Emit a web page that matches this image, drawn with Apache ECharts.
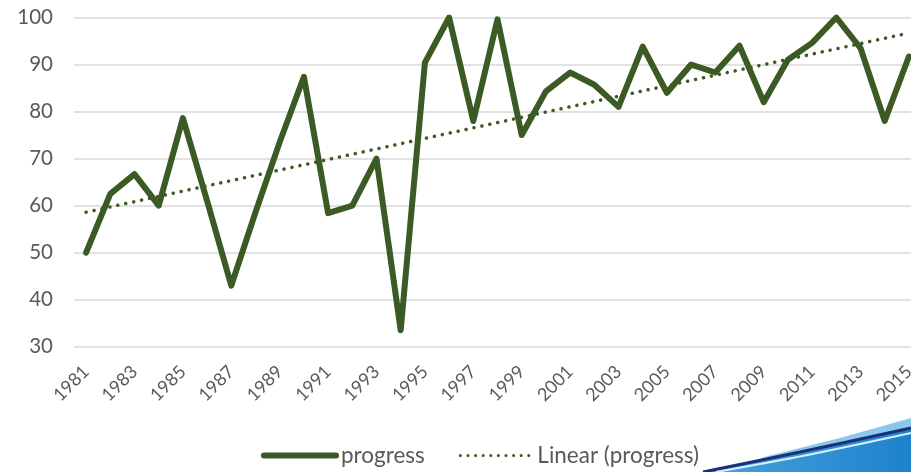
<!DOCTYPE html>
<html>
<head>
<meta charset="utf-8">
<script src="https://cdn.jsdelivr.net/npm/echarts@6/dist/echarts.min.js"></script>
<style>
  html, body { margin: 0; padding: 0; background: #fff; overflow: hidden; }
  /* plot runs a little past the right edge of the window, like the original crop */
  #chart { width: 921px; height: 472px; }
</style>
</head>
<body>
<div id="chart"></div>
<script>
const years = ['1981','1982','1983','1984','1985','1986','1987','1988','1989','1990',
  '1991','1992','1993','1994','1995','1996','1997','1998','1999','2000',
  '2001','2002','2003','2004','2005','2006','2007','2008','2009','2010',
  '2011','2012','2013','2014','2015'];
const progress = [50, 62.5, 66.7, 60, 78.6, 61, 43, 58.6, 73.5, 87.4,
  58.4, 60, 70, 33.5, 90.4, 100, 78, 99.6, 75, 84.3,
  88.3, 85.7, 81, 93.8, 84, 90, 88.3, 94, 82, 91,
  94.6, 100, 93.5, 78, 91.7];
// trend line read at first and last year
const trendEnds = [58.6, 96.7];

const green = '#3c5a24';
const font = 'Lato, "Open Sans", sans-serif';

const chart = echarts.init(document.getElementById('chart'));
chart.setOption({
  animation: false,
  textStyle: { fontFamily: font },
  grid: { left: 74, right: 0, top: 17.5, bottom: 125.3, containLabel: false },
  legend: {
    bottom: 0,
    left: 256,
    itemWidth: 72,
    itemHeight: 14,
    itemGap: 34,
    textStyle: { color: '#595959', fontSize: 22.5, fontFamily: font },
    data: [
      { name: 'progress', itemStyle: { opacity: 0 }, lineStyle: { width: 6, cap: 'round' } },
      { name: 'Linear (progress)', itemStyle: { opacity: 0 }, lineStyle: { width: 3, type: [0.1, 7.5], cap: 'round' } }
    ]
  },
  xAxis: {
    type: 'category',
    data: years,
    boundaryGap: true,
    axisLine: { show: false },
    axisTick: { show: false },
    axisLabel: {
      interval: 1,
      rotate: 45,
      margin: 22,
      color: '#595959',
      fontSize: 18,
      fontFamily: font
    }
  },
  yAxis: {
    type: 'value',
    min: 30,
    max: 100,
    interval: 10,
    axisLine: { show: false },
    axisTick: { show: false },
    axisLabel: { color: '#595959', fontSize: 20.5, margin: 21, fontFamily: font },
    splitLine: { lineStyle: { color: '#d9d9d9', width: 1.5 } }
  },
  series: [
    {
      name: 'progress',
      type: 'line',
      data: progress,
      symbol: 'none',
      lineStyle: { color: green, width: 6, join: 'round', cap: 'round' },
      itemStyle: { color: green },
      z: 3
    },
    {
      name: 'Linear (progress)',
      type: 'line',
      data: [[0, trendEnds[0]], [years.length - 1, trendEnds[1]]],
      symbol: 'none',
      lineStyle: { color: green, width: 3.5, type: [0.1, 8], cap: 'round' },
      itemStyle: { color: green },
      z: 2
    }
  ],
  // blue swoosh in the bottom right corner
  graphic: [
    {
      type: 'polygon',
      shape: { points: [[760, 458], [840, 438], [911, 418], [911, 430], [840, 444], [780, 457]] },
      style: { fill: '#8cc8ec' }
    },
    {
      type: 'polygon',
      shape: { points: [[703, 472], [800, 452], [911, 428], [911, 472]] },
      style: {
        fill: {
          type: 'linear', x: 0, y: 0, x2: 1, y2: 0,
          colorStops: [
            { offset: 0, color: '#4aa3dc' },
            { offset: 1, color: '#1d82cc' }
          ]
        }
      }
    },
    {
      type: 'polyline',
      shape: { points: [[703, 472], [800, 452], [911, 428]], smooth: 0.3 },
      style: { stroke: '#1b2f7a', lineWidth: 3, fill: null }
    },
    {
      type: 'polyline',
      shape: { points: [[716, 472], [805, 455.5], [911, 433]], smooth: 0.3 },
      style: { stroke: '#d6f0fb', lineWidth: 2, fill: null }
    }
  ]
});
</script>
</body>
</html>
